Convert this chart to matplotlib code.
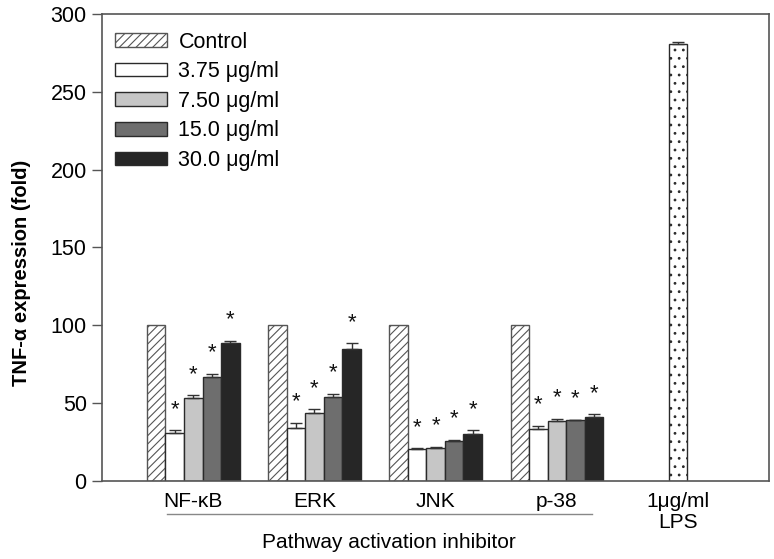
import matplotlib
matplotlib.use("Agg")
import matplotlib.pyplot as plt
import numpy as np

plt.rcParams['font.family'] = ['Liberation Sans', 'DejaVu Sans']
plt.rcParams['hatch.linewidth'] = 0.8

groups = ['NF-κB', 'ERK', 'JNK', 'p-38']
series = ['Control', '3.75 μg/ml', '7.50 μg/ml', '15.0 μg/ml', '30.0 μg/ml']
values = {
    'Control':    [100, 100, 100, 100],
    '3.75 μg/ml': [31, 34, 20.5, 33.5],
    '7.50 μg/ml': [53.5, 43.5, 21.5, 38.5],
    '15.0 μg/ml': [67, 54, 26, 39],
    '30.0 μg/ml': [88.5, 84.5, 30, 41],
}
errors = {
    'Control':    [0, 0, 0, 0],
    '3.75 μg/ml': [1.5, 3.5, 0.5, 2],
    '7.50 μg/ml': [1.5, 2.5, 0.5, 1.5],
    '15.0 μg/ml': [2, 2, 0.5, 0.5],
    '30.0 μg/ml': [1.5, 4, 2.5, 2],
}
significant = {
    'Control':    [False, False, False, False],
    '3.75 μg/ml': [True, True, True, True],
    '7.50 μg/ml': [True, True, True, True],
    '15.0 μg/ml': [True, True, True, True],
    '30.0 μg/ml': [True, True, True, True],
}
lps_label = '1μg/ml\nLPS'
lps_value = 281
lps_error = 1.0

faces = ['white', 'white', '#c6c6c6', '#6e6e6e', '#262626']
hatches = ['////', None, None, None, None]
edge = '#2a2a2a'

fig = plt.figure(figsize=(7.74, 5.59), dpi=100)
ax = fig.add_axes([0.1318, 0.1395, 0.8617, 0.8355])

width = 0.153
x = np.arange(len(groups))
for i, s in enumerate(series):
    pos = x + (i - 2) * width
    v = np.array(values[s])
    e = np.array(errors[s])
    ax.bar(pos, v, width, color=faces[i], edgecolor=edge if i else '#555555',
           hatch=hatches[i], linewidth=1.0, label=s, zorder=2)
    if i > 0:
        ax.errorbar(pos, v, yerr=[np.zeros_like(e), e], fmt='none',
                    ecolor='#333333', elinewidth=1.0, capsize=4, capthick=1.0, zorder=3)
    for p, val, err, sig in zip(pos, v, e, significant[s]):
        if sig:
            ax.annotate('*', (p, val + err), xytext=(0, 11), textcoords='offset points',
                        ha='center', va='baseline', fontsize=16, color='#111111')

ax.bar([len(groups)], [lps_value], width, color='white', edgecolor=edge,
       hatch='..', linewidth=1.0, zorder=2)
ax.errorbar([len(groups)], [lps_value], yerr=[[0], [lps_error]], fmt='none',
            ecolor='#333333', elinewidth=1.0, capsize=4, capthick=1.0, zorder=3)

ax.set_xlim(-0.753, 4.75)
ax.set_ylim(0, 300)
ax.set_yticks([0, 50, 100, 150, 200, 250, 300])
ax.tick_params(axis='y', direction='out', length=7, width=1.0, color='#555555',
               labelsize=15.5, pad=4)
ax.set_xticks(list(x) + [len(groups)])
ax.set_xticklabels(groups + [lps_label], fontsize=15, linespacing=1.15)
ax.tick_params(axis='x', length=0, pad=8)
for sp in ax.spines.values():
    sp.set_color('#555555')
    sp.set_linewidth(1.2)

ax.set_ylabel('TNF-α expression (fold)', fontsize=14.5, fontweight='bold')
ax.yaxis.set_label_coords(-0.107, 0.445)

trans = ax.get_xaxis_transform()
ax.plot([-0.217, 3.29], [-0.0707, -0.0707], transform=trans, color='#888888',
        linewidth=1.0, clip_on=False)
ax.text(1.61, -0.132, 'Pathway activation inhibitor', transform=trans,
        ha='center', va='center', fontsize=15)

leg = ax.legend(loc='upper left', bbox_to_anchor=(0.0, 0.99), frameon=False,
                fontsize=15.5, handlelength=2.4, handleheight=0.6,
                labelspacing=0.4, handletextpad=0.55, borderaxespad=0.2)

fig.savefig('out.png', dpi=100)
